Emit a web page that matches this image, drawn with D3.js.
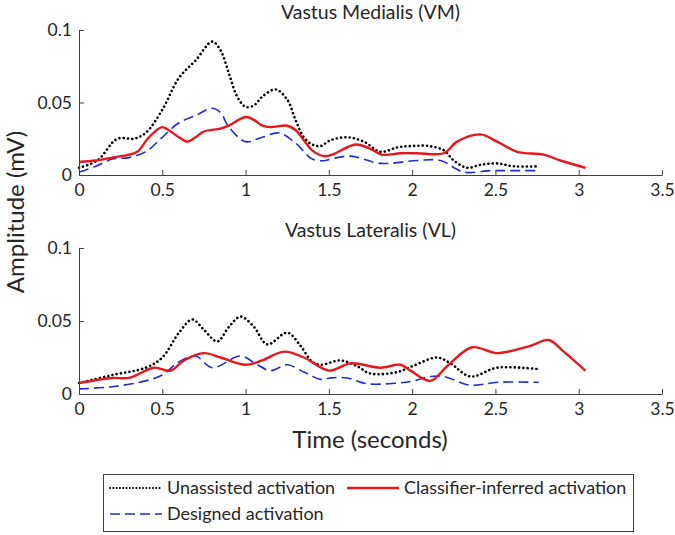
<!DOCTYPE html>
<html>
<head>
<meta charset="utf-8">
<script src="https://cdn.jsdelivr.net/npm/d3@7"></script>
<style>
  body { margin: 0; background: #fff; }
  svg text { font-family: Lato, "Noto Sans", sans-serif; fill: #262626; }
</style>
</head>
<body>
<svg id="viz" width="675" height="535"></svg>
<script>
// time (s), amplitude (mV) pairs
const vmUnassisted = [[0,0.005],[0.11,0.010],[0.23,0.025],[0.33,0.025],[0.4,0.029],[0.5,0.045],[0.6,0.067],[0.7,0.079],[0.8,0.092],[0.85,0.086],[0.9,0.070],[0.95,0.054],[1.0,0.047],[1.05,0.048],[1.1,0.054],[1.18,0.059],[1.25,0.052],[1.3,0.038],[1.35,0.026],[1.4,0.021],[1.45,0.020],[1.51,0.024],[1.61,0.026],[1.71,0.023],[1.81,0.016],[1.91,0.019],[2.0,0.020],[2.1,0.020],[2.19,0.017],[2.25,0.010],[2.33,0.005],[2.41,0.007],[2.51,0.008],[2.61,0.006],[2.76,0.006]];
const vmClassifier = [[0,0.009],[0.1,0.010],[0.2,0.012],[0.3,0.014],[0.35,0.016],[0.42,0.026],[0.5,0.033],[0.55,0.030],[0.6,0.026],[0.65,0.023],[0.7,0.026],[0.75,0.030],[0.85,0.032],[0.9,0.034],[1.0,0.040],[1.05,0.038],[1.1,0.034],[1.15,0.033],[1.25,0.034],[1.3,0.031],[1.35,0.024],[1.4,0.017],[1.47,0.013],[1.52,0.014],[1.66,0.021],[1.75,0.018],[1.82,0.014],[1.93,0.015],[2.03,0.015],[2.19,0.015],[2.27,0.023],[2.41,0.028],[2.51,0.023],[2.63,0.016],[2.79,0.014],[2.89,0.010],[3.04,0.005]];
const vmDesigned = [[0,0.002],[0.1,0.006],[0.2,0.011],[0.3,0.012],[0.4,0.016],[0.5,0.026],[0.6,0.036],[0.7,0.041],[0.8,0.046],[0.85,0.043],[0.9,0.033],[1.0,0.023],[1.1,0.026],[1.2,0.029],[1.3,0.022],[1.4,0.011],[1.48,0.010],[1.51,0.011],[1.63,0.013],[1.81,0.008],[2.03,0.010],[2.17,0.010],[2.31,0.002],[2.47,0.003],[2.57,0.003],[2.76,0.003]];

const vlUnassisted = [[0,0.0075],[0.2,0.013],[0.4,0.018],[0.5,0.025],[0.6,0.042],[0.68,0.051],[0.75,0.044],[0.83,0.036],[0.9,0.046],[0.97,0.053],[1.05,0.046],[1.13,0.034],[1.25,0.042],[1.33,0.033],[1.4,0.022],[1.45,0.020],[1.57,0.023],[1.67,0.019],[1.75,0.014],[1.91,0.015],[2.0,0.019],[2.15,0.025],[2.23,0.021],[2.35,0.012],[2.51,0.018],[2.76,0.017]];
const vlClassifier = [[0,0.0075],[0.2,0.011],[0.3,0.011],[0.45,0.018],[0.55,0.016],[0.63,0.023],[0.75,0.028],[0.85,0.025],[1.0,0.020],[1.1,0.023],[1.23,0.029],[1.35,0.025],[1.5,0.016],[1.63,0.021],[1.81,0.018],[1.93,0.020],[1.99,0.016],[2.11,0.009],[2.21,0.019],[2.36,0.032],[2.51,0.028],[2.71,0.033],[2.82,0.037],[2.91,0.029],[3.04,0.016]];
const vlDesigned = [[0,0.0035],[0.2,0.005],[0.4,0.009],[0.5,0.013],[0.6,0.022],[0.7,0.026],[0.8,0.018],[0.97,0.026],[1.07,0.020],[1.15,0.016],[1.25,0.020],[1.35,0.015],[1.45,0.010],[1.51,0.011],[1.61,0.011],[1.73,0.007],[1.91,0.0075],[2.01,0.009],[2.11,0.012],[2.19,0.012],[2.35,0.006],[2.51,0.008],[2.76,0.008]];

const xTicks = [0, 0.5, 1, 1.5, 2, 2.5, 3, 3.5];
const yTicks = [0, 0.05, 0.1];
const legendLabels = ['Unassisted activation', 'Classifier-inferred activation', 'Designed activation'];

const svg = d3.select('#viz');
const x = d3.scaleLinear().domain([0, 3.5]).range([79, 662]);

const styles = {
  unassisted: { stroke: '#000', width: 2.6, dash: '0.1,4.2', cap: 'round' },
  classifier: { stroke: '#e8161b', width: 2.4, dash: null, cap: 'butt' },
  designed: { stroke: '#1f2bd6', width: 1.6, dash: '10,5', cap: 'butt' }
};

const panels = [
  { title: 'Vastus Medialis (VM)', top: 30, bottom: 175, series: [['unassisted', vmUnassisted], ['designed', vmDesigned], ['classifier', vmClassifier]] },
  { title: 'Vastus Lateralis (VL)', top: 248, bottom: 394, series: [['unassisted', vlUnassisted], ['designed', vlDesigned], ['classifier', vlClassifier]] }
];

const line = d3.line().curve(d3.curveCatmullRom.alpha(0.5));

panels.forEach(p => {
  const y = d3.scaleLinear().domain([0, 0.1]).range([p.bottom, p.top]);
  const g = svg.append('g');

  // series
  p.series.forEach(([key, data]) => {
    const s = styles[key];
    g.append('path')
      .attr('d', line.x(d => x(d[0])).y(d => y(d[1]))(data))
      .attr('fill', 'none')
      .attr('stroke', s.stroke)
      .attr('stroke-width', s.width)
      .attr('stroke-dasharray', s.dash)
      .attr('stroke-linecap', s.cap);
  });

  // axes (MATLAB style, inward ticks, no box)
  const xa = g.append('g').attr('transform', `translate(0,${p.bottom})`)
    .call(d3.axisBottom(x).tickValues(xTicks).tickFormat(d => String(d)).tickSizeInner(-5).tickSizeOuter(0).tickPadding(9));
  const ya = g.append('g').attr('transform', 'translate(79,0)')
    .call(d3.axisLeft(y).tickValues(yTicks).tickFormat(d => String(d)).tickSizeInner(-5).tickSizeOuter(0).tickPadding(7));
  [xa, ya].forEach(a => {
    a.select('.domain').attr('stroke', '#404040').attr('stroke-width', 1);
    a.selectAll('.tick line').attr('stroke', '#404040');
    a.selectAll('.tick text').attr('font-size', 17.5).attr('fill', '#262626').style('font-family', 'Lato, sans-serif');
  });

  g.append('text')
    .attr('x', (x.range()[0] + x.range()[1]) / 2)
    .attr('y', p.top - 11)
    .attr('text-anchor', 'middle')
    .attr('font-size', 19.5)
    .text(p.title);
});

svg.append('text')
  .attr('transform', 'translate(24,212) rotate(-90)')
  .attr('text-anchor', 'middle')
  .attr('font-size', 24)
  .text('Amplitude (mV)');

svg.append('text')
  .attr('x', 370).attr('y', 448)
  .attr('text-anchor', 'middle')
  .attr('font-size', 24)
  .text('Time (seconds)');

// legend
const leg = svg.append('g');
leg.append('rect').attr('x', 103.5).attr('y', 474.5).attr('width', 530).attr('height', 57)
  .attr('fill', '#fff').attr('stroke', '#404040').attr('stroke-width', 1);
const items = [
  { key: 'unassisted', x: 110, y: 488, label: legendLabels[0] },
  { key: 'classifier', x: 347, y: 488, label: legendLabels[1] },
  { key: 'designed', x: 110, y: 514, label: legendLabels[2] }
];
items.forEach(it => {
  const s = styles[it.key];
  const sample = leg.append('line').attr('x1', it.x).attr('x2', it.x + 52).attr('y1', it.y).attr('y2', it.y)
    .attr('stroke', s.stroke).attr('stroke-width', s.width)
    .attr('stroke-dasharray', s.dash).attr('stroke-linecap', s.cap);
  if (it.key === 'unassisted') sample.attr('stroke-width', 2).attr('stroke-dasharray', '0.1,3.2');
  leg.append('text').attr('x', it.x + 57).attr('y', it.y).attr('dy', '0.35em')
    .attr('font-size', 18).text(it.label);
});
</script>
</body>
</html>
